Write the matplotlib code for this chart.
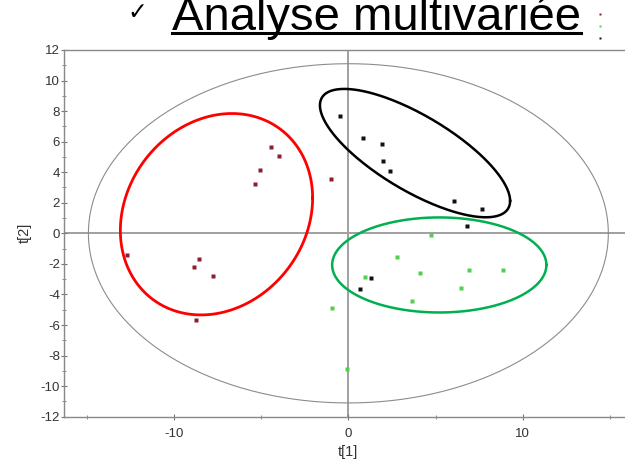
import numpy as np
import matplotlib
matplotlib.use("Agg")
from matplotlib import pyplot as plt
from matplotlib.lines import Line2D
from matplotlib.ticker import MultipleLocator

plt.rcParams['font.family'] = ['Liberation Sans', 'DejaVu Sans']
plt.rcParams['axes.unicode_minus'] = False

# score plot t[1] / t[2]
red_t1 = [-4.46, -4.0, -5.05, -5.33, -1.01, -12.67, -8.57, -8.86, -7.77, -8.73]
red_t2 = [5.64, 5.05, 4.14, 3.26, 3.54, -1.42, -1.69, -2.2, -2.77, -5.66]

black_t1 = [-0.47, 0.82, 1.94, 1.98, 2.4, 6.07, 7.64, 6.8, 1.31, 0.69]
black_t2 = [7.69, 6.26, 5.86, 4.74, 4.09, 2.13, 1.56, 0.48, -2.95, -3.63]

green_t1 = [4.72, 2.78, 4.08, 6.9, 8.84, 0.95, 6.46, 3.62, -0.93, -0.06]
green_t2 = [-0.12, -1.58, -2.57, -2.37, -2.4, -2.84, -3.61, -4.45, -4.91, -8.91]

# group ellipses: centre, spread along t1, spread along t2, correlation
red_ell = [(-7.56, 1.25), 5.51, 6.59, 0.161]
black_ell = [(3.82, 5.25), 5.45, 4.2, -0.744]
green_ell = [(5.21, -2.07), 6.14, 3.11, 0.0]
hotelling = [(0.0, 0.0), 14.9, 11.1, 0.0]


def ellipse_xy(ell, n=300):
    (cx, cy), sx, sy, rho = ell
    cov = np.array([[sx * sx, rho * sx * sy], [rho * sx * sy, sy * sy]])
    L = np.linalg.cholesky(cov)
    t = np.linspace(0, 2 * np.pi, n)
    pts = L @ np.vstack([np.cos(t), np.sin(t)])
    return cx + pts[0], cy + pts[1]


fig = plt.figure(figsize=(6.25, 4.66), dpi=100)
ax = fig.add_axes([0.1024, 0.1058, 0.91, 0.787])

ax.axhline(0, color='#a0a0a0', lw=1.4, zorder=1)
ax.axvline(0, color='#a0a0a0', lw=1.4, zorder=1)

ex, ey = ellipse_xy(hotelling)
ax.plot(ex, ey, color='#8c8c8c', lw=0.8, zorder=2)

ex, ey = ellipse_xy(red_ell)
ax.plot(ex, ey, color='#ff0000', lw=2.0, zorder=3)
ex, ey = ellipse_xy(black_ell)
ax.plot(ex, ey, color='#000000', lw=1.8, zorder=3)
ex, ey = ellipse_xy(green_ell)
ax.plot(ex, ey, color='#00b050', lw=1.8, zorder=3)

ax.plot(red_t1, red_t2, 's', ms=2.6, color='#8b1f2e', mec='none', zorder=4)
ax.plot(green_t1, green_t2, 's', ms=2.6, color='#4fd04f', mec='none', zorder=4)
ax.plot(black_t1, black_t2, 's', ms=2.4, color='#111111', mec='none', zorder=4)

ax.set_xlim(-16.3, 16.3)
ax.set_ylim(-12, 12)
ax.xaxis.set_major_locator(MultipleLocator(10))
ax.xaxis.set_minor_locator(MultipleLocator(5))
ax.yaxis.set_major_locator(MultipleLocator(2))
ax.yaxis.set_minor_locator(MultipleLocator(1))

for s in ax.spines.values():
    s.set_color('#888888')
    s.set_linewidth(1.0)
ax.spines['right'].set_visible(False)

ax.tick_params(axis='both', which='both', direction='inout', color='#777777',
               labelsize=9.5, labelcolor='#333333')
ax.tick_params(axis='both', which='major', length=4)
ax.tick_params(axis='both', which='minor', length=3)
ax.tick_params(axis='x', pad=6)
ax.tick_params(axis='y', pad=1)
ax.tick_params(right=False, top=False, which='both')

ax.set_xlabel('t[1]', fontsize=10.5, color='#333333', labelpad=4)
ax.set_ylabel('t[2]', fontsize=10.5, color='#333333', labelpad=6)

# heading
title = fig.text(0.2752, 1 - 30 / 466, 'Analyse multivariée', fontsize=34,
                 ha='left', va='baseline', color='black')
fig.text(137 / 625, 1 - 12 / 466, '✓', fontsize=17, fontweight='bold',
         family='DejaVu Sans', ha='center', va='center')
fig.canvas.draw()
bb = title.get_window_extent()
uy = 1 - 33 / 466
fig.add_artist(Line2D([bb.x0 / 625, bb.x1 / 625], [uy, uy], color='black',
                      lw=2.2, transform=fig.transFigure))

# legend markers
for yy, col in [(14, '#8b1f2e'), (26, '#4fd04f'), (38, '#111111')]:
    fig.add_artist(Line2D([600 / 625], [1 - yy / 466], marker='s', ms=2.0,
                          color=col, mec='none', transform=fig.transFigure))

fig.savefig('out.png', dpi=100)
